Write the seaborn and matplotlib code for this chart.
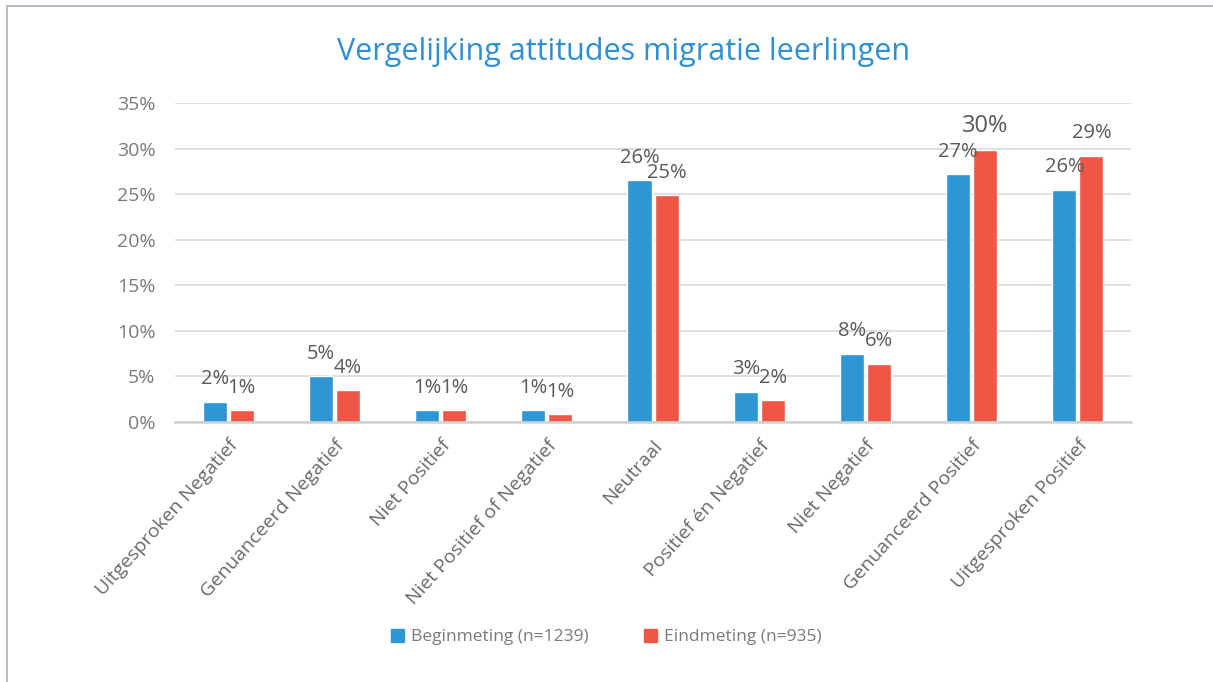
import matplotlib
matplotlib.use("Agg")
import matplotlib.pyplot as plt
from matplotlib.lines import Line2D
from matplotlib.ticker import FuncFormatter, MultipleLocator
import seaborn as sns
import pandas as pd

categories = ["Uitgesproken Negatief", "Genuanceerd Negatief", "Niet Positief",
              "Niet Positief of Negatief", "Neutraal", "Positief én Negatief",
              "Niet Negatief", "Genuanceerd Positief", "Uitgesproken Positief"]
series_names = ["Beginmeting (n=1239)", "Eindmeting (n=935)"]
begin_values = [2.2, 5.0, 1.3, 1.3, 26.5, 3.3, 7.5, 27.2, 25.5]
eind_values = [1.3, 3.5, 1.3, 0.85, 24.9, 2.4, 6.4, 29.8, 29.2]
begin_labels = ["2%", "5%", "1%", "1%", "26%", "3%", "8%", "27%", "26%"]
eind_labels = ["1%", "4%", "1%", "1%", "25%", "2%", "6%", "30%", "29%"]

df = pd.DataFrame({
    "categorie": categories * 2,
    "waarde": begin_values + eind_values,
    "meting": [series_names[0]] * len(categories) + [series_names[1]] * len(categories),
})

sns.set_theme(style="white")
plt.rcParams["font.family"] = ["Open Sans", "DejaVu Sans"]

fig = plt.figure(figsize=(12.13, 6.82), dpi=100)
ax = fig.add_axes([0.1443, 0.3812, 0.9324 - 0.1443, 0.849 - 0.3812])

colors = ["#2E96D3", "#EF5646"]
sns.barplot(data=df, x="categorie", y="waarde", hue="meting", order=categories,
            hue_order=series_names, palette=colors, width=0.51, gap=0.11,
            saturation=1, ax=ax, legend=False)

ax.set_ylim(0, 35)
ax.set_xlim(-0.5, len(categories) - 0.5)
ax.yaxis.set_major_locator(MultipleLocator(5))
ax.yaxis.set_major_formatter(FuncFormatter(lambda v, p: f"{int(round(v))}%"))
ax.grid(axis="y", color="#D9D9D9", linewidth=1.2)
ax.set_axisbelow(True)
for s in ["top", "right", "left"]:
    ax.spines[s].set_visible(False)
ax.spines["bottom"].set_color("#D0D0D0")
ax.spines["bottom"].set_linewidth(1.8)
ax.tick_params(axis="both", length=0, colors="#7A7A7A", labelsize=14)
ax.tick_params(axis="y", pad=14)
ax.set_xlabel("")
ax.set_ylabel("")
plt.setp(ax.get_xticklabels(), rotation=48, ha="right", rotation_mode="anchor",
         color="#6A6A6A", fontsize=14)
for lbl in ax.get_xticklabels():
    lbl.set_y(-0.03)

for cont, labs in zip(ax.containers, [begin_labels, eind_labels]):
    texts = ax.bar_label(cont, labels=labs, padding=9, color="#595959", fontsize=14.5)
    for t in texts:
        if t.get_text() == "30%":
            t.set_fontsize(17)

handles = [plt.Rectangle((0, 0), 1, 1, color=c) for c in colors]
fig.legend(handles, series_names, loc="center", bbox_to_anchor=(0.5, 1 - 637 / 682),
           ncol=2, frameon=False, fontsize=12.5, labelcolor="#7A7A7A",
           handlelength=0.75, handleheight=0.75, handletextpad=0.4, columnspacing=3.2)

fig.suptitle("Vergelijking attitudes migratie leerlingen", x=0.514, y=1 - 52 / 682,
             va="center", color="#2E8FD4", fontsize=22)

fig.add_artist(Line2D([7 / 1213, 7 / 1213], [0, 1 - 6 / 682], transform=fig.transFigure,
                      color="#A7AFB7", linewidth=1.2))
fig.add_artist(Line2D([7 / 1213, 1], [1 - 6 / 682, 1 - 6 / 682], transform=fig.transFigure,
                      color="#A7AFB7", linewidth=1.2))

fig.savefig("out.png", dpi=100, facecolor="white")
